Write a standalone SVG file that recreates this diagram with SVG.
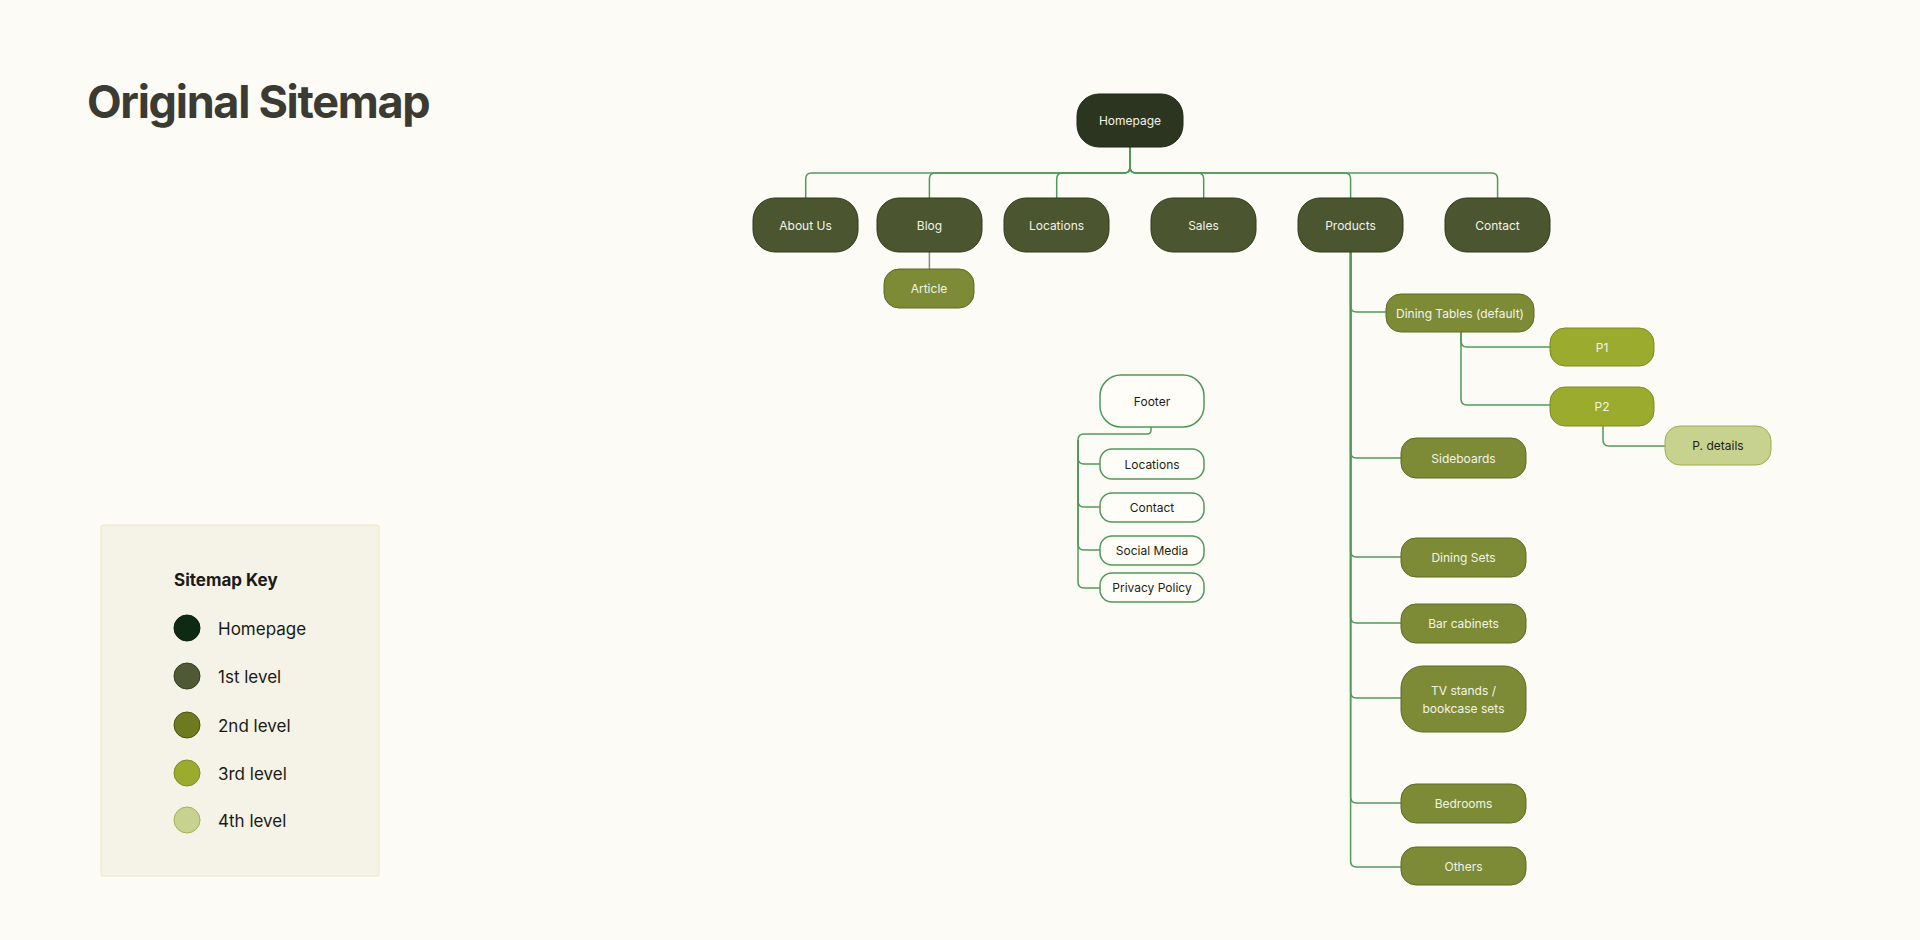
<svg xmlns="http://www.w3.org/2000/svg" width="1920" height="940" viewBox="0 0 1920 940">
<style>
text{font-family:Inter,"Noto Sans","Liberation Sans",sans-serif;}
.n text{font-size:12px;text-anchor:middle;dominant-baseline:central;fill:#f3f3e6;}
.hp rect{fill:#2c3520;stroke:#1f2817;stroke-width:1;}
.l1 rect{fill:#4b5530;stroke:#2f3a1c;stroke-width:1;}
.l2 rect{fill:#7d8b36;stroke:#5c6a24;stroke-width:1;}
.l3 rect{fill:#9bab2e;stroke:#7d8c22;stroke-width:1;}
.l4 rect{fill:#c8d28f;stroke:#9eac52;stroke-width:1;}
.l4 text{fill:#1d1f14;}
.ft rect{fill:#fffdf8;stroke:#4f9a5a;stroke-width:1.5;}
.ft text{fill:#1d1f14;}
.c path{fill:none;stroke:#4f9a5a;stroke-width:1.5;}
.lg text{font-size:17px;fill:#1b1b16;dominant-baseline:central;}
</style>
<rect width="1920" height="940" fill="#fdfbf5"/>
<text x="87" y="118" font-size="45" font-weight="700" fill="#3b3b34" letter-spacing="-1.3">Original Sitemap</text>

<g id="connectors" class="c">
<path d="M1130 147 V167 Q1130 173 1124 173 H811.7 Q805.7 173 805.7 179 V198"/>
<path d="M1130 147 V167 Q1130 173 1124 173 H935.4 Q929.4 173 929.4 179 V198"/>
<path d="M1130 147 V167 Q1130 173 1124 173 H1062.7 Q1056.7 173 1056.7 179 V198"/>
<path d="M1130 147 V167 Q1130 173 1136 173 H1197.7 Q1203.7 173 1203.7 179 V198"/>
<path d="M1130 147 V167 Q1130 173 1136 173 H1344.6 Q1350.6 173 1350.6 179 V198"/>
<path d="M1130 147 V167 Q1130 173 1136 173 H1491.6 Q1497.6 173 1497.6 179 V198"/>
<path d="M929.4 252 V269" style="stroke:#8a8a80"/>
<path d="M1350.6 252 V306 Q1350.6 312 1356.6 312 H1386"/>
<path d="M1350.6 252 V452 Q1350.6 458 1356.6 458 H1401"/>
<path d="M1350.6 252 V551 Q1350.6 557 1356.6 557 H1401"/>
<path d="M1350.6 252 V617 Q1350.6 623 1356.6 623 H1401"/>
<path d="M1350.6 252 V692 Q1350.6 698 1356.6 698 H1401"/>
<path d="M1350.6 252 V797 Q1350.6 803 1356.6 803 H1401"/>
<path d="M1350.6 252 V861 Q1350.6 867 1356.6 867 H1401"/>
<path d="M1461 332 V341 Q1461 347 1467 347 H1550"/>
<path d="M1461 332 V399 Q1461 405 1467 405 H1550"/>
<path d="M1603 426 V440 Q1603 446 1609 446 H1665"/>
<path d="M1151 427 V430 Q1151 434 1147 434 H1084 Q1078 434 1078 440 V458 Q1078 464 1084 464 H1100"/>
<path d="M1078 440 V501 Q1078 507 1084 507 H1100"/>
<path d="M1078 440 V544 Q1078 550 1084 550 H1100"/>
<path d="M1078 440 V582 Q1078 588 1084 588 H1100"/>
</g>

<g id="homepage" class="n hp"><rect x="1077" y="94" width="106" height="53" rx="22"/><text x="1130" y="120.5">Homepage</text></g>
<g id="about" class="n l1"><rect x="753" y="198" width="105" height="54" rx="22"/><text x="805.5" y="225">About Us</text></g>
<g id="blog" class="n l1"><rect x="877" y="198" width="105" height="54" rx="22"/><text x="929.5" y="225">Blog</text></g>
<g id="locations" class="n l1"><rect x="1004" y="198" width="105" height="54" rx="22"/><text x="1056.5" y="225">Locations</text></g>
<g id="sales" class="n l1"><rect x="1151" y="198" width="105" height="54" rx="22"/><text x="1203.5" y="225">Sales</text></g>
<g id="products" class="n l1"><rect x="1298" y="198" width="105" height="54" rx="22"/><text x="1350.5" y="225">Products</text></g>
<g id="contact" class="n l1"><rect x="1445" y="198" width="105" height="54" rx="22"/><text x="1497.5" y="225">Contact</text></g>

<g id="article" class="n l2"><rect x="884" y="269" width="90" height="39" rx="15"/><text x="929" y="288.5">Article</text></g>
<g id="dining-tables" class="n l2"><rect x="1386" y="294" width="148" height="38" rx="15"/><text x="1460" y="313">Dining Tables (default)</text></g>
<g id="p1" class="n l3"><rect x="1550" y="328" width="104" height="38" rx="15"/><text x="1602" y="347">P1</text></g>
<g id="p2" class="n l3"><rect x="1550" y="387" width="104" height="39" rx="15"/><text x="1602" y="406.5">P2</text></g>
<g id="p-details" class="n l4"><rect x="1665" y="426" width="106" height="39" rx="15"/><text x="1718" y="445.5">P. details</text></g>
<g id="sideboards" class="n l2"><rect x="1401" y="438" width="125" height="40" rx="15"/><text x="1463.5" y="458">Sideboards</text></g>
<g id="dining-sets" class="n l2"><rect x="1401" y="538" width="125" height="39" rx="15"/><text x="1463.5" y="557.5">Dining Sets</text></g>
<g id="bar-cabinets" class="n l2"><rect x="1401" y="604" width="125" height="39" rx="15"/><text x="1463.5" y="623.5">Bar cabinets</text></g>
<g id="tv-stands" class="n l2"><rect x="1401" y="666" width="125" height="66" rx="22"/><text x="1463.5" y="690">TV stands /</text><text x="1463.5" y="708">bookcase sets</text></g>
<g id="bedrooms" class="n l2"><rect x="1401" y="784" width="125" height="39" rx="15"/><text x="1463.5" y="803.5">Bedrooms</text></g>
<g id="others" class="n l2"><rect x="1401" y="847" width="125" height="38" rx="15"/><text x="1463.5" y="866">Others</text></g>

<g id="footer" class="n ft"><rect x="1100" y="375" width="104" height="52" rx="21"/><text x="1152" y="401">Footer</text></g>
<g id="f-locations" class="n ft"><rect x="1100" y="449" width="104" height="30" rx="12"/><text x="1152" y="464">Locations</text></g>
<g id="f-contact" class="n ft"><rect x="1100" y="493" width="104" height="29" rx="12"/><text x="1152" y="507.5">Contact</text></g>
<g id="f-social" class="n ft"><rect x="1100" y="536" width="104" height="29" rx="12"/><text x="1152" y="550.5">Social Media</text></g>
<g id="f-privacy" class="n ft"><rect x="1100" y="573" width="104" height="29" rx="12"/><text x="1152" y="587.5">Privacy Policy</text></g>

<g id="legend" class="lg">
<rect x="101" y="525" width="278" height="351" rx="2" fill="#f5f2e7" stroke="#ece6c2" stroke-width="1"/>
<text x="174" y="580" font-size="17" font-weight="700">Sitemap Key</text>
<circle cx="187" cy="628" r="13" fill="#0f2a12" stroke="#0a1f0c"/>
<text x="218" y="628.5">Homepage</text>
<circle cx="187" cy="676" r="13" fill="#4f5a35" stroke="#333d20"/>
<text x="218" y="676.5">1st level</text>
<circle cx="187" cy="725" r="13" fill="#6d7a1e" stroke="#4a5412"/>
<text x="218" y="725.5">2nd level</text>
<circle cx="187" cy="773" r="13" fill="#9bab2e" stroke="#7f8d22"/>
<text x="218" y="773.5">3rd level</text>
<circle cx="187" cy="820" r="13" fill="#c8d28f" stroke="#a4b15a"/>
<text x="218" y="820.5">4th level</text>
</g>
</svg>
